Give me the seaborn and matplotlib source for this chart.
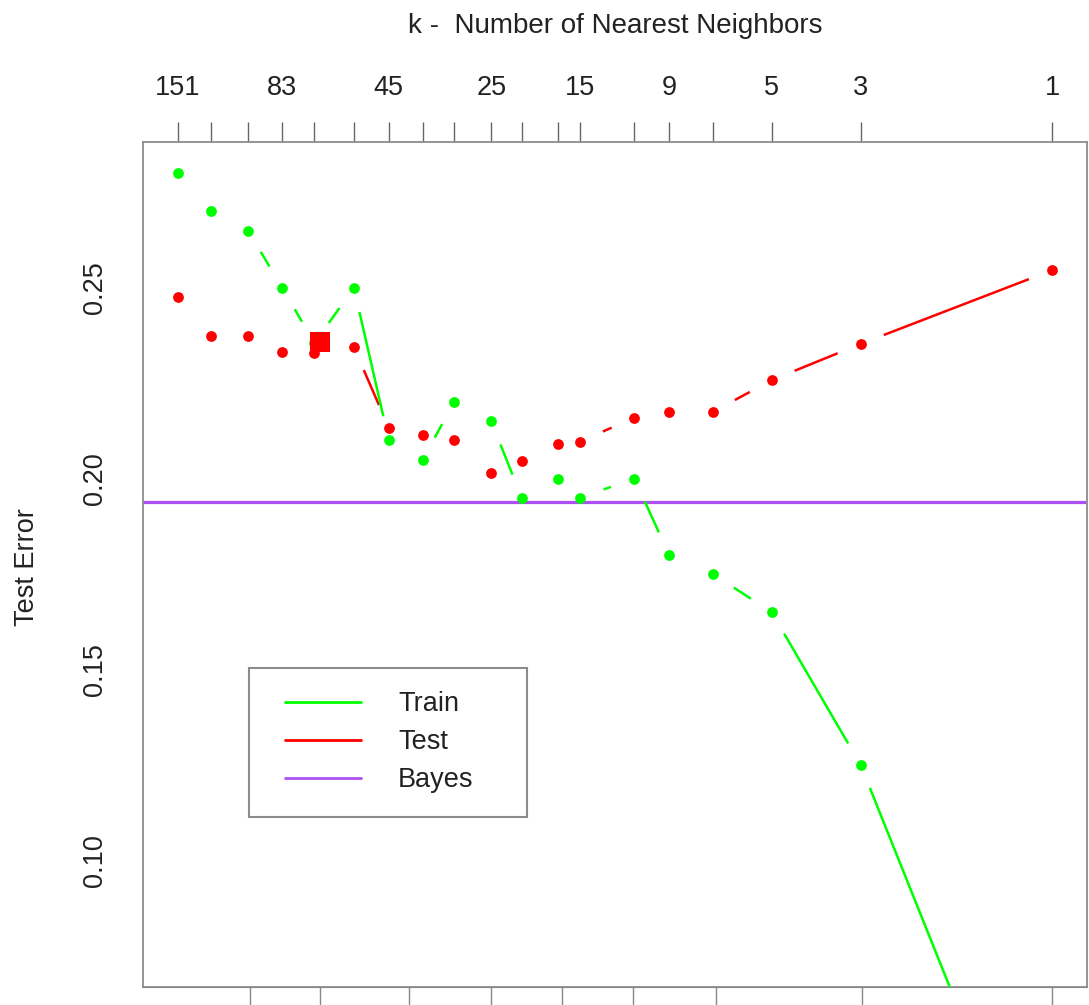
import numpy as np
import pandas as pd
import matplotlib
matplotlib.use("Agg")
import matplotlib.pyplot as plt
from matplotlib.lines import Line2D
from matplotlib.patches import Rectangle
import seaborn as sns

sns.set_style("white")
plt.rcParams["font.family"] = ["Liberation Sans", "DejaVu Sans"]

# ── data ──────────────────────────────────────────────────────────────────
k_values = [151, 125, 101, 83, 69, 55, 45, 37, 31, 25, 21, 17, 15, 11, 9, 7, 5, 3, 1]
train_err = [0.280, 0.270, 0.265, 0.250, 0.2355, 0.250, 0.210, 0.205, 0.220, 0.215,
             0.195, 0.200, 0.195, 0.200, 0.180, 0.175, 0.165, 0.125, 0.000]
test_err = [0.2475, 0.2375, 0.2375, 0.2333, 0.2328, 0.2344, 0.2133, 0.2113, 0.2101, 0.2014,
            0.2045, 0.2092, 0.2097, 0.2160, 0.2175, 0.2175, 0.2258, 0.2353, 0.2546]
bayes_err = 0.1938
n_train = 200
linear_df = 3
linear_test_err = 0.2357
top_labels = [151, 83, 45, 25, 15, 9, 5, 3, 1]
df_ticks = [2, 3, 5, 8, 12, 18, 29, 67, 200]
y_range = (0.075, 0.28)

GREEN, RED, PURPLE = "#00FF00", "#FF0000", "#AD4FF2"
FS = 19.5
TXT = "#222222"

fig = plt.figure(figsize=(10.89, 10.05), dpi=100)
ax = fig.add_axes([143 / 1089, 1 - 987 / 1005, 944 / 1089, 845 / 1005])

# R-style 4% padding on both axes
lo, hi = np.log(min(k_values)), np.log(max(k_values))
pad = 0.04 * (hi - lo)
xlim = (np.exp(hi + pad), np.exp(lo - pad))
ypad = 0.04 * (y_range[1] - y_range[0])
ylim = (y_range[0] - ypad, y_range[1] + ypad)
ax.set_xscale("log")
ax.set_xlim(xlim)
ax.set_ylim(ylim)


def gapped(ax, xs, ys, color, gap=24.8, z=2):
    # type="b": segments between points, cut back around each point
    pts = ax.transData.transform(np.column_stack([xs, ys]))
    inv = ax.transData.inverted()
    for p, q in zip(pts[:-1], pts[1:]):
        d = q - p
        L = np.hypot(*d)
        if L - 2 * gap < 3:
            continue
        u = d / L
        a, b = inv.transform([p + u * gap, q - u * gap])
        ax.plot([a[0], b[0]], [a[1], b[1]], color=color, lw=1.8,
                solid_capstyle="butt", zorder=z)


df = pd.DataFrame({"k": k_values, "train": train_err, "test": test_err})

ax.axhline(bayes_err, color=PURPLE, lw=2.3, zorder=1)
gapped(ax, df["k"], df["test"], RED, z=2)
sns.scatterplot(data=df, x="k", y="test", color=RED, s=60, linewidth=0, ax=ax, zorder=3)
gapped(ax, df["k"], df["train"], GREEN, z=4)
sns.scatterplot(data=df, x="k", y="train", color=GREEN, s=60, linewidth=0, ax=ax, zorder=5)
sns.scatterplot(x=[n_train / linear_df], y=[linear_test_err], marker="s", color=RED,
                s=200, linewidth=0, ax=ax, zorder=6)

ax.set_xlim(xlim)
ax.set_ylim(ylim)
ax.set_xlabel("")
ax.set_ylabel("")

# top axis: k
ax.xaxis.set_ticks_position("top")
ax.set_xticks(k_values)
ax.set_xticklabels([str(k) if k in top_labels else "" for k in k_values])
ax.xaxis.set_minor_locator(matplotlib.ticker.NullLocator())
ax.tick_params(axis="x", which="major", top=True, bottom=False, labeltop=True,
               labelbottom=False, direction="out", length=14.5, width=1,
               color="#666666", pad=15, labelsize=FS, labelcolor=TXT)

# bottom axis: degrees of freedom N/k (labels fall outside the picture)
bax = ax.secondary_xaxis("bottom", functions=(lambda k: n_train / k, lambda d: n_train / d))
bax.set_xticks(df_ticks)
bax.set_xticklabels([])
bax.xaxis.set_minor_locator(matplotlib.ticker.NullLocator())
bax.tick_params(direction="out", length=16, width=1, color="#888888")
bax.spines["bottom"].set_color("#666666")

ax.set_yticks([0.10, 0.15, 0.20, 0.25])
ax.set_yticklabels(["0.10", "0.15", "0.20", "0.25"])
ax.tick_params(axis="y", direction="out", length=11.5, width=1, color="#666666",
               pad=14, labelsize=FS, labelcolor=TXT)
plt.setp(ax.get_yticklabels(), rotation=90, va="center", ha="right")

for s in ax.spines.values():
    s.set_color("#8c8c8c")
    s.set_linewidth(1.3)

fig.text(615 / 1089, 1 - 26 / 1005, "k -  Number of Nearest Neighbors",
         ha="center", va="center", fontsize=20, color=TXT)
fig.text(27 / 1089, 1 - 567 / 1005, "Test Error", rotation=90,
         ha="center", va="center", fontsize=FS, color=TXT)

# legend box drawn separately so the inner padding can match
ax.add_patch(Rectangle(((249 - 143) / 944, (987 - 817) / 845), 278 / 944, 149 / 845,
                       transform=ax.transAxes, fill=True, facecolor="white",
                       edgecolor="#8c8c8c", lw=1.5, zorder=7))
handles = [Line2D([], [], color=GREEN, lw=2),
           Line2D([], [], color=RED, lw=2),
           Line2D([], [], color=PURPLE, lw=2)]
leg = ax.legend(handles, ["Train", "Test", "Bayes"], loc="upper left",
                bbox_to_anchor=((285 - 143) / 944, (987 - 691) / 845),
                borderaxespad=0, borderpad=0, frameon=False, fontsize=FS,
                handlelength=2.8, handletextpad=1.37, labelspacing=0.45)
leg.set_zorder(8)
for t in leg.get_texts():
    t.set_color(TXT)

fig.savefig("out.png", dpi=100)
